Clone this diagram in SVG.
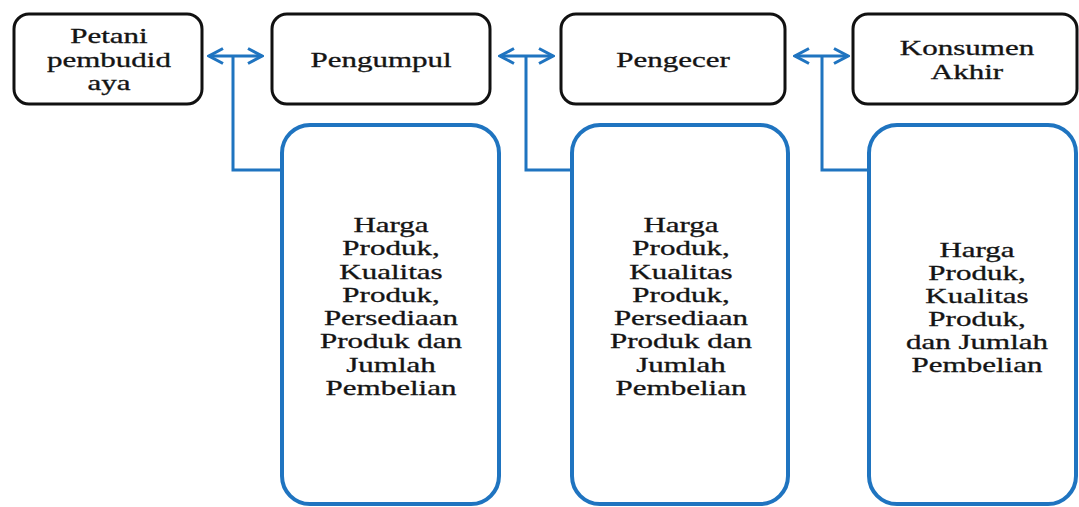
<svg xmlns="http://www.w3.org/2000/svg" width="1079" height="507" viewBox="0 0 1079 507">
<style>
.bk{fill:#fff;stroke:#111;stroke-width:3}
.bl{fill:#fff;stroke:#1f74c0;stroke-width:4}
.t{font-family:"Liberation Serif","Times New Roman",serif;font-size:20px;fill:#141414;stroke:#141414;stroke-width:0.3;text-anchor:middle}
.c{fill:none;stroke:#1f74c0;stroke-width:3}
</style>
<defs>
<marker id="ah" viewBox="0 0 18 18" refX="16" refY="9" markerWidth="18" markerHeight="18" markerUnits="userSpaceOnUse" orient="auto-start-reverse">
<path d="M2,1.5 L16,9 L2,16.5" fill="none" stroke="#1f74c0" stroke-width="3" stroke-linejoin="miter"/>
</marker>
</defs>
<g id="connectors">
<line class="c" x1="209" y1="56" x2="262" y2="56" marker-start="url(#ah)" marker-end="url(#ah)"/>
<polyline class="c" points="233,56 233,170 282,170"/>
<line class="c" x1="500" y1="56" x2="553" y2="56" marker-start="url(#ah)" marker-end="url(#ah)"/>
<polyline class="c" points="526,56 526,170 572,170"/>
<line class="c" x1="795" y1="56" x2="848" y2="56" marker-start="url(#ah)" marker-end="url(#ah)"/>
<polyline class="c" points="822,56 822,170 869,170"/>
</g>
<g id="petani">
<rect class="bk" x="14" y="14" width="188" height="90" rx="15"/>
<g transform="translate(109,0) scale(1.55,1)"><text class="t"><tspan x="0" y="43">Petani</tspan><tspan x="0" y="67">pembudid</tspan><tspan x="0" y="90">aya</tspan></text></g>
</g>
<g id="pengumpul">
<rect class="bk" x="272" y="14" width="218" height="90" rx="15"/>
<g transform="translate(381,0) scale(1.55,1)"><text class="t" x="0" y="67">Pengumpul</text></g>
</g>
<g id="pengecer">
<rect class="bk" x="561" y="14" width="224" height="90" rx="15"/>
<g transform="translate(673,0) scale(1.55,1)"><text class="t" x="0" y="67">Pengecer</text></g>
</g>
<g id="konsumen">
<rect class="bk" x="853" y="14" width="224" height="90" rx="15"/>
<g transform="translate(967,0) scale(1.55,1)"><text class="t"><tspan x="0" y="55">Konsumen</tspan><tspan x="0" y="79">Akhir</tspan></text></g>
</g>
<g id="info-pengumpul">
<rect class="bl" x="282" y="125" width="217" height="379" rx="28"/>
<g transform="translate(391,0) scale(1.55,1)"><text class="t"><tspan x="0" y="232">Harga</tspan><tspan x="0" y="255">Produk,</tspan><tspan x="0" y="279">Kualitas</tspan><tspan x="0" y="302">Produk,</tspan><tspan x="0" y="325">Persediaan</tspan><tspan x="0" y="348">Produk dan</tspan><tspan x="0" y="372">Jumlah</tspan><tspan x="0" y="395">Pembelian</tspan></text></g>
</g>
<g id="info-pengecer">
<rect class="bl" x="572" y="125" width="216" height="379" rx="28"/>
<g transform="translate(681,0) scale(1.55,1)"><text class="t"><tspan x="0" y="232">Harga</tspan><tspan x="0" y="255">Produk,</tspan><tspan x="0" y="279">Kualitas</tspan><tspan x="0" y="302">Produk,</tspan><tspan x="0" y="325">Persediaan</tspan><tspan x="0" y="348">Produk dan</tspan><tspan x="0" y="372">Jumlah</tspan><tspan x="0" y="395">Pembelian</tspan></text></g>
</g>
<g id="info-konsumen">
<rect class="bl" x="869" y="125" width="207" height="379" rx="28"/>
<g transform="translate(977,0) scale(1.55,1)"><text class="t"><tspan x="0" y="257">Harga</tspan><tspan x="0" y="280">Produk,</tspan><tspan x="0" y="303">Kualitas</tspan><tspan x="0" y="326">Produk,</tspan><tspan x="0" y="349">dan Jumlah</tspan><tspan x="0" y="372">Pembelian</tspan></text></g>
</g>
</svg>
